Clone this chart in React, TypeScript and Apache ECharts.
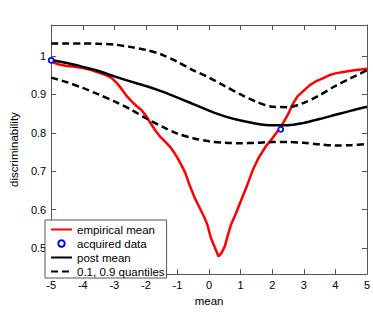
import React, { useEffect, useRef } from "react";
import * as echarts from "echarts";

const gridX = [-5, -4.5, -4, -3.5, -3, -2.5, -2, -1.5, -1, -0.5, 0, 0.5, 1, 1.5, 2, 2.5, 3, 3.5, 4, 4.5, 5];
const postMean = [0.990, 0.982, 0.972, 0.961, 0.947, 0.934, 0.922, 0.908, 0.892, 0.875, 0.858, 0.843, 0.832, 0.824, 0.820, 0.820, 0.826, 0.836, 0.847, 0.858, 0.868];
const upperQ = [1.033, 1.033, 1.033, 1.032, 1.030, 1.024, 1.016, 1.004, 0.985, 0.963, 0.944, 0.922, 0.900, 0.881, 0.868, 0.867, 0.878, 0.898, 0.922, 0.943, 0.963];
const lowerQ = [0.944, 0.932, 0.917, 0.900, 0.882, 0.862, 0.838, 0.817, 0.798, 0.786, 0.778, 0.774, 0.773, 0.774, 0.776, 0.776, 0.774, 0.770, 0.767, 0.768, 0.771];

const empX = [-5, -4.75, -4.5, -4.25, -4, -3.75, -3.5, -3.25, -3.1, -2.9, -2.75, -2.6, -2.45, -2.3, -2.15, -2, -1.85, -1.7, -1.55, -1.4, -1.25, -1.1, -1, -0.85, -0.75, -0.6, -0.45, -0.3, -0.15, -0.05, 0.05, 0.15, 0.3, 0.4, 0.5, 0.6, 0.7, 0.85, 1, 1.2, 1.4, 1.55, 1.7, 1.8, 2, 2.27, 2.5, 2.65, 2.8, 3, 3.2, 3.4, 3.6, 3.8, 4, 4.3, 4.6, 5];
const empY = [0.985, 0.978, 0.974, 0.972, 0.969, 0.964, 0.957, 0.950, 0.944, 0.928, 0.912, 0.895, 0.882, 0.870, 0.860, 0.845, 0.825, 0.806, 0.790, 0.778, 0.765, 0.748, 0.735, 0.712, 0.695, 0.660, 0.630, 0.605, 0.580, 0.560, 0.528, 0.508, 0.478, 0.488, 0.505, 0.535, 0.562, 0.590, 0.621, 0.662, 0.706, 0.732, 0.752, 0.765, 0.785, 0.815, 0.848, 0.875, 0.895, 0.910, 0.925, 0.935, 0.942, 0.950, 0.955, 0.959, 0.963, 0.967];

const acqX = [-5, 2.27];
const acqY = [0.989, 0.809];

const yTicks = [0.5, 0.6, 0.7, 0.8, 0.9, 1.0];
const legendNames = ["empirical mean", "acquired data", "post mean", "0.1, 0.9 quantiles"];

const zip = (xs: number[], ys: number[]) => xs.map((x, i) => [x, ys[i]]);

const FONT = "'Liberation Sans', Arial, sans-serif";
const AXIS_COLOR = "#555";

export default function App() {
  const ref = useRef<HTMLDivElement>(null);
  useEffect(() => {
    if (!ref.current) return;
    const chart = echarts.init(ref.current, undefined, { renderer: "svg" });
    const xBase = {
      type: "value" as const,
      min: -5,
      max: 5,
      interval: 1,
      splitLine: { show: false },
      axisLine: { show: true, onZero: false, lineStyle: { color: AXIS_COLOR, width: 1 } },
      axisTick: { show: true, inside: true, length: 5, lineStyle: { color: AXIS_COLOR } },
    };
    const yBase = {
      type: "value" as const,
      min: 0.432,
      max: 1.081,
      splitLine: { show: false },
      axisLine: { show: true, onZero: false, lineStyle: { color: AXIS_COLOR, width: 1 } },
      axisTick: { show: true, inside: true, length: 5, customValues: yTicks, lineStyle: { color: AXIS_COLOR } },
    };
    const dashStyle = { color: "#000", width: 2.5, type: [7, 4] as any };
    const noSymbol = { opacity: 0 };
    chart.setOption({
      animation: false,
      backgroundColor: "#fff",
      textStyle: { fontFamily: FONT },
      grid: { left: 42, right: 6, top: 25, bottom: 30, containLabel: false },
      legend: {
        orient: "vertical",
        left: 45,
        top: 220,
        data: [
          { name: legendNames[0], itemStyle: noSymbol },
          { name: legendNames[1] },
          { name: legendNames[2], itemStyle: noSymbol },
          { name: legendNames[3], itemStyle: noSymbol },
        ],
        backgroundColor: "#fff",
        borderColor: AXIS_COLOR,
        borderWidth: 1,
        borderRadius: 0,
        padding: [3, 2, 0, 5],
        itemGap: 1,
        itemWidth: 21,
        itemHeight: 8,
        textStyle: { fontSize: 11.5, color: "#000", fontFamily: FONT, lineHeight: 13 },
        selectedMode: false,
      },
      xAxis: [
        {
          ...xBase,
          position: "bottom",
          name: "mean",
          nameLocation: "middle",
          nameGap: 14,
          nameTextStyle: { fontSize: 11.5, color: "#000", fontFamily: FONT },
          axisLabel: { show: true, margin: 5, fontSize: 11, color: "#000", fontFamily: FONT },
        },
        {
          ...xBase,
          position: "top",
          axisLabel: { show: false },
        },
      ],
      yAxis: [
        {
          ...yBase,
          position: "left",
          name: "discriminability",
          nameLocation: "middle",
          nameGap: 22,
          nameTextStyle: { fontSize: 11.5, color: "#000", fontFamily: FONT },
          axisLabel: {
            show: true,
            margin: 5,
            fontSize: 11,
            color: "#000",
            fontFamily: FONT,
            customValues: yTicks,
            formatter: (v: number) => String(Math.round(v * 10) / 10),
          },
        },
        {
          ...yBase,
          position: "right",
          axisLabel: { show: false },
        },
      ],
      series: [
        {
          name: "empirical mean",
          type: "line",
          data: zip(empX, empY),
          showSymbol: false,
          symbol: "none",
          lineStyle: { color: "#ff0000", width: 2.5 },
          itemStyle: { color: "#ff0000" },
          z: 2,
        },
        {
          name: "post mean",
          type: "line",
          data: zip(gridX, postMean),
          smooth: 0.3,
          showSymbol: false,
          symbol: "none",
          lineStyle: { color: "#000", width: 2.5 },
          itemStyle: { color: "#000" },
          z: 3,
        },
        {
          name: "0.1, 0.9 quantiles",
          type: "line",
          data: zip(gridX, upperQ),
          smooth: 0.3,
          showSymbol: false,
          symbol: "none",
          lineStyle: dashStyle,
          itemStyle: { color: "#000" },
          z: 3,
        },
        {
          name: "0.1, 0.9 quantiles",
          type: "line",
          data: zip(gridX, lowerQ),
          smooth: 0.3,
          showSymbol: false,
          symbol: "none",
          lineStyle: dashStyle,
          itemStyle: { color: "#000" },
          z: 3,
        },
        {
          name: "acquired data",
          type: "line",
          data: zip(acqX, acqY),
          symbol: "circle",
          symbolSize: 5,
          showSymbol: true,
          lineStyle: { width: 0, opacity: 0 },
          itemStyle: { color: "#fff", borderColor: "#0000ff", borderWidth: 1.8 },
          z: 4,
        },
      ],
    });
    return () => chart.dispose();
  }, []);
  return <div ref={ref} style={{ position: "fixed", left: 0, top: 0, width: 373, height: 312 }} />;
}
